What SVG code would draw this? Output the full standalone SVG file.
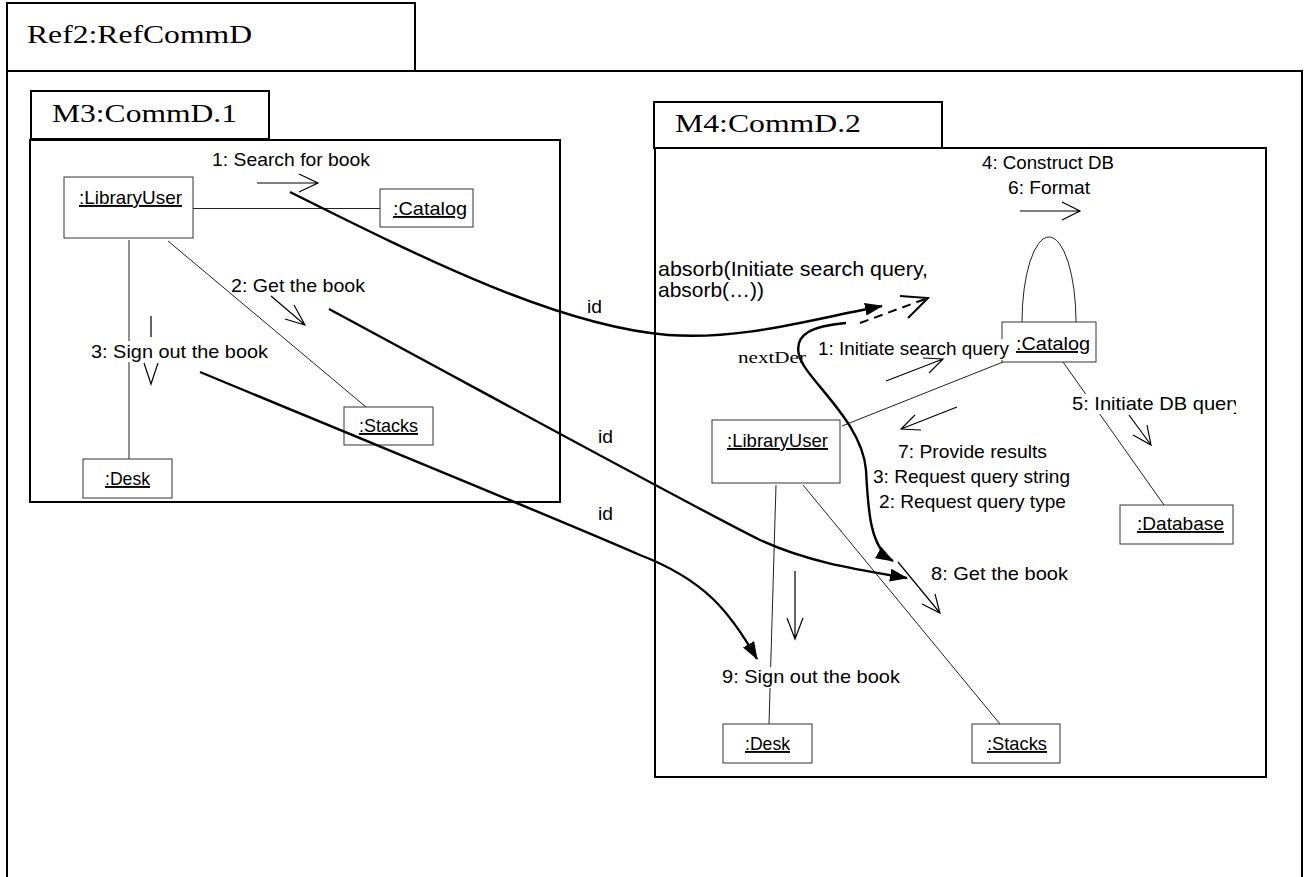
<svg xmlns="http://www.w3.org/2000/svg" width="1305" height="877" viewBox="0 0 1305 877">
<style>
  .frame{fill:none;stroke:#000;stroke-width:2}
  .tab{fill:#fff;stroke:#000;stroke-width:2}
  .obj{fill:#fff;stroke:#333;stroke-width:1}
  .assoc{fill:none;stroke:#222;stroke-width:1}
  .msg{fill:none;stroke:#000;stroke-width:1.2}
  .ref{fill:none;stroke:#000;stroke-width:2.4}
  .dash{fill:none;stroke:#000;stroke-width:2;stroke-dasharray:9 6}
  .title{font-family:"Liberation Serif","Times New Roman",serif;font-size:26px;fill:#000}
  .serif{font-family:"Liberation Serif","Times New Roman",serif;font-size:17px;fill:#000}
  .lbl{font-family:"Liberation Sans",Arial,sans-serif;font-size:19px;fill:#000}
  .big{font-size:21px}
  .name{font-family:"Liberation Sans",Arial,sans-serif;font-size:19px;fill:#000;text-decoration:underline}
  .bg{fill:#fff}
</style>
<defs>
  <marker id="solidHead" viewBox="0 0 18 13" refX="17" refY="6.5" markerWidth="18" markerHeight="13" markerUnits="userSpaceOnUse" orient="auto">
    <path d="M0,0 L18,6.5 L0,13 z" fill="#000"/>
  </marker>
  <clipPath id="dbClip"><rect x="1060" y="385" width="176" height="40"/></clipPath>
</defs>

<rect x="0" y="0" width="1305" height="877" fill="#fff"/>

<!-- outer frame Ref2 -->
<g id="ref2-frame">
  <path class="frame" d="M7,880 V71 H1302 V880"/>
  <rect class="tab" x="7" y="3" width="408" height="68"/>
  <text class="title" x="27" y="43" textLength="225" lengthAdjust="spacingAndGlyphs">Ref2:RefCommD</text>
</g>

<!-- frame M3 -->
<g id="m3-frame">
  <rect class="frame" x="30" y="140" width="530" height="362"/>
  <rect class="tab" x="31" y="91" width="238" height="48"/>
  <text class="title" x="52" y="122" textLength="185" lengthAdjust="spacingAndGlyphs">M3:CommD.1</text>
</g>

<!-- frame M4 -->
<g id="m4-frame">
  <rect class="frame" x="655" y="148" width="611" height="629"/>
  <rect class="tab" x="654" y="102" width="288" height="46"/>
  <text class="title" x="675" y="132" textLength="186" lengthAdjust="spacingAndGlyphs">M4:CommD.2</text>
</g>

<!-- links between objects -->
<g id="links">
  <path class="assoc" d="M193,208.5 H380"/>
  <path class="assoc" d="M129,240 V459"/>
  <path class="assoc" d="M168,241 L366,407"/>
  <path class="assoc" d="M842,426 L1003,362"/>
  <path class="assoc" d="M1063,362 L1164,505"/>
  <path class="assoc" d="M776,485 L769,724"/>
  <path class="assoc" d="M803,485 L1000,724"/>
  <path class="assoc" d="M1022,322 A27,85 0 0 1 1076,322"/>
</g>

<!-- M3 objects -->
<g id="m3-libraryuser">
  <rect class="obj" x="64" y="177" width="129" height="61"/>
  <text class="name" x="79" y="204" textLength="103" lengthAdjust="spacingAndGlyphs">:LibraryUser</text>
</g>
<g id="m3-catalog">
  <rect class="obj" x="380" y="189" width="93" height="38"/>
  <text class="name" x="393" y="215" textLength="74" lengthAdjust="spacingAndGlyphs">:Catalog</text>
</g>
<g id="m3-desk">
  <rect class="obj" x="83" y="459" width="89" height="39"/>
  <text class="name" x="105" y="485" textLength="45" lengthAdjust="spacingAndGlyphs">:Desk</text>
</g>
<g id="m3-stacks">
  <rect class="obj" x="344" y="407" width="89" height="38"/>
  <text class="name" x="359" y="432" textLength="59" lengthAdjust="spacingAndGlyphs">:Stacks</text>
</g>

<!-- M4 objects -->
<g id="m4-catalog">
  <rect class="obj" x="1002" y="322" width="94" height="40"/>
</g>
<g id="m4-libraryuser">
  <rect class="obj" x="712" y="420" width="128" height="63"/>
  <text class="name" x="727" y="447" textLength="101" lengthAdjust="spacingAndGlyphs">:LibraryUser</text>
</g>
<g id="m4-database">
  <rect class="obj" x="1120" y="505" width="113" height="39"/>
  <text class="name" x="1137" y="530" textLength="87" lengthAdjust="spacingAndGlyphs">:Database</text>
</g>
<g id="m4-desk">
  <rect class="obj" x="723" y="724" width="89" height="39"/>
  <text class="name" x="745" y="750" textLength="45" lengthAdjust="spacingAndGlyphs">:Desk</text>
</g>
<g id="m4-stacks">
  <rect class="obj" x="972" y="724" width="88" height="39"/>
  <text class="name" x="987" y="750" textLength="60" lengthAdjust="spacingAndGlyphs">:Stacks</text>
</g>

<!-- messages of M3 -->
<g id="m3-messages">
  <text class="lbl" x="212" y="166" textLength="158" lengthAdjust="spacingAndGlyphs">1: Search for book</text>
  <path class="msg" d="M257,183 H318 M299,174 L318,183 L299,192"/>
  <text class="lbl" x="231" y="292" textLength="134" lengthAdjust="spacingAndGlyphs">2: Get the book</text>
  <path class="msg" d="M271,296 L305,325 M285,319 L305,325 L294,305"/>
  <path class="msg" d="M151,316 V337 M144,363 L151,384 L158,363"/>
  <rect class="bg" x="89" y="341" width="181" height="21"/>
  <text class="lbl" x="91" y="358" textLength="177" lengthAdjust="spacingAndGlyphs">3: Sign out the book</text>
</g>

<!-- messages of M4 -->
<g id="m4-messages">
  <text class="lbl" x="982" y="169" textLength="132" lengthAdjust="spacingAndGlyphs">4: Construct DB</text>
  <text class="lbl" x="1008" y="194" textLength="82" lengthAdjust="spacingAndGlyphs">6: Format</text>
  <path class="msg" d="M1020,211 H1080 M1062,202 L1080,211 L1062,220"/>

  <text class="lbl big" x="658" y="276" textLength="270" lengthAdjust="spacingAndGlyphs">absorb(Initiate search query,</text>
  <text class="lbl big" x="658" y="297" textLength="106" lengthAdjust="spacingAndGlyphs">absorb(…))</text>
  <path class="dash" d="M860,323 L928,298"/>
  <path class="msg" style="stroke-width:2" d="M900,296 L928,298 L908,318"/>

  <rect class="bg" x="816" y="339" width="195" height="21"/>
  <text class="lbl" x="818" y="355" textLength="191" lengthAdjust="spacingAndGlyphs">1: Initiate search query</text>
  <text class="name" x="1016" y="350" textLength="74" lengthAdjust="spacingAndGlyphs">:Catalog</text>
  <path class="msg" d="M886,381 L943,359 M923,358 L943,359 L929,373"/>

  <path class="msg" d="M957,407 L901,429 M921,430 L901,429 L915,415"/>
  <text class="lbl" x="898" y="458" textLength="149" lengthAdjust="spacingAndGlyphs">7: Provide results</text>
  <text class="lbl" x="873" y="483" textLength="197" lengthAdjust="spacingAndGlyphs">3: Request query string</text>
  <text class="lbl" x="879" y="508" textLength="187" lengthAdjust="spacingAndGlyphs">2: Request query type</text>

  <rect class="bg" x="1070" y="394" width="166" height="20"/>
  <text class="lbl" x="1072" y="410" textLength="171" lengthAdjust="spacingAndGlyphs" clip-path="url(#dbClip)">5: Initiate DB query</text>
  <path class="msg" d="M1129,415 L1151,445 M1133,435 L1151,445 L1147,425"/>

  <text class="lbl" x="931" y="580" textLength="137" lengthAdjust="spacingAndGlyphs">8: Get the book</text>
  <path class="msg" d="M898,562 L940,613 M922,604 L940,613 L935,594"/>

  <path class="msg" d="M795,571 V639 M787,618 L795,639 L803,618"/>
  <rect class="bg" x="720" y="667" width="182" height="21"/>
  <text class="lbl" x="722" y="683" textLength="178" lengthAdjust="spacingAndGlyphs">9: Sign out the book</text>
</g>

<!-- refinement connectors between the two diagrams -->
<g id="connectors">
  <path class="ref" d="M290,192 C430,262 560,326 668,335 C740,340 800,322 882,306" marker-end="url(#solidHead)"/>
  <text class="lbl" x="587" y="313" textLength="15" lengthAdjust="spacingAndGlyphs">id</text>
  <path class="ref" d="M329,309 C520,412 690,505 760,540 C810,563 860,570 907,578" marker-end="url(#solidHead)"/>
  <text class="lbl" x="598" y="443" textLength="15" lengthAdjust="spacingAndGlyphs">id</text>
  <path class="ref" d="M200,372 C400,455 560,520 640,555 C705,580 730,612 757,659" marker-end="url(#solidHead)"/>
  <text class="lbl" x="598" y="520" textLength="15" lengthAdjust="spacingAndGlyphs">id</text>
  <path class="ref" d="M846,323 C812,326 794,334 799,355 C804,378 862,420 866,470 C868,510 870,548 893,561" marker-end="url(#solidHead)"/>
  <text class="serif" x="738" y="363" textLength="68" lengthAdjust="spacingAndGlyphs">nextDer</text>
</g>
</svg>
